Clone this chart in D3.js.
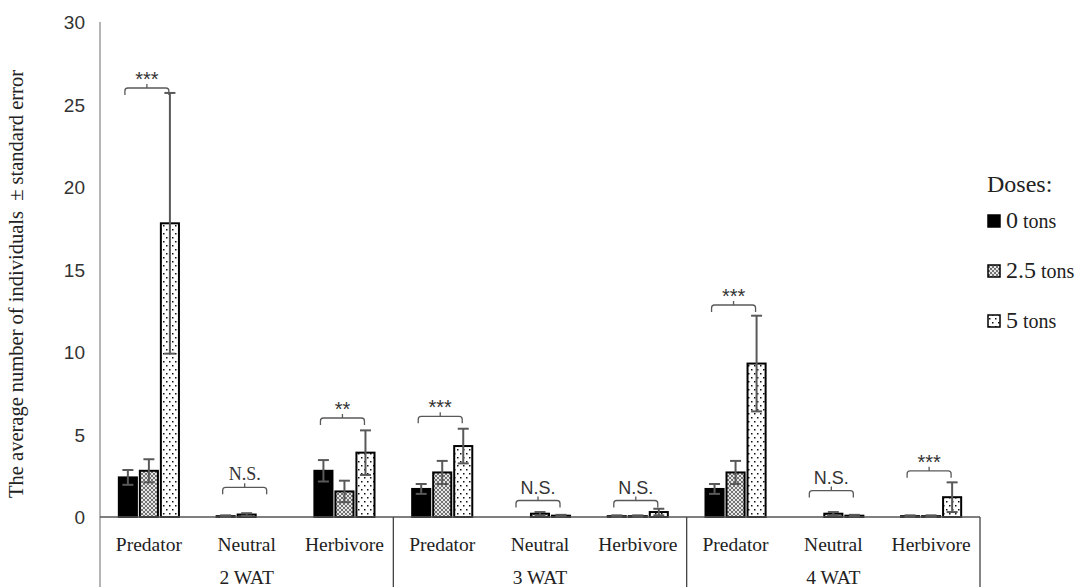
<!DOCTYPE html>
<meta charset="utf-8">
<style>
body { margin: 0; background: #fff; }
.tick-label { font-family: "Liberation Sans", Arial, sans-serif; font-size: 19px; fill: #333; }
.serif { font-family: "Liberation Serif", "DejaVu Serif", "Times New Roman", serif; }
.cat { font-size: 19.5px; fill: #222; }
.err { stroke: #595959; stroke-width: 2; }
.bracket { fill: none; stroke: #595959; stroke-width: 1.3; }
</style>
<div class="chart"></div>
<script src="https://cdn.jsdelivr.net/npm/d3@7"></script>
<script>

// data
var groups = ["2 WAT", "3 WAT", "4 WAT"];
var guilds = ["Predator", "Neutral", "Herbivore"];
var doses = ["0 tons", "2.5 tons", "5 tons"];

// means per dose, categories in order 2WAT P,N,H / 3WAT P,N,H / 4WAT P,N,H
var dose0 = [2.4, 0.05, 2.8, 1.7, 0.0, 0.05, 1.7, 0.0, 0.05];
var dose25 = [2.8, 0.15, 1.55, 2.7, 0.2, 0.05, 2.7, 0.2, 0.05];
var dose5 = [17.8, 0.0, 3.9, 4.3, 0.08, 0.3, 9.3, 0.08, 1.2];
var se0 = [0.45, 0.05, 0.65, 0.3, 0.0, 0.05, 0.3, 0.0, 0.05];
var se25 = [0.7, 0.08, 0.65, 0.7, 0.1, 0.05, 0.7, 0.1, 0.05];
var se5 = [7.9, 0.0, 1.35, 1.05, 0.05, 0.2, 2.9, 0.05, 0.9];

var sigLabels = ["***", "N.S.", "**", "***", "N.S.", "N.S.", "***", "N.S.", "***"];
var sigLevel = [26.0, 1.8, 6.0, 6.1, 1.0, 1.0, 12.85, 1.6, 2.8];
var yTicks = [0, 5, 10, 15, 20, 25, 30];

var width = 1079, height = 587;
var left = 100, right = 980, yZero = 517, yTop = 22;

var cats = [];
groups.forEach(function(g) {
  guilds.forEach(function(c) { cats.push(g + "|" + c); });
});

var svg = d3.select(".chart").append("svg")
    .attr("width", width)
    .attr("height", height);

var defs = svg.append("defs");

var hatch = defs.append("pattern")
    .attr("id", "hatch")
    .attr("patternUnits", "userSpaceOnUse")
    .attr("width", 4).attr("height", 4);
hatch.append("rect").attr("width", 4).attr("height", 4).attr("fill", "#e6e6e6");
hatch.append("path").attr("d", "M0,0 L4,4 M4,0 L0,4")
    .attr("stroke", "#666").attr("stroke-width", 0.9);

var dots = defs.append("pattern")
    .attr("id", "dots")
    .attr("patternUnits", "userSpaceOnUse")
    .attr("width", 6).attr("height", 8);
dots.append("rect").attr("width", 6).attr("height", 8).attr("fill", "#fff");
dots.append("rect").attr("x", 1).attr("y", 1).attr("width", 1.5).attr("height", 1.5).attr("fill", "#111");
dots.append("rect").attr("x", 4).attr("y", 5).attr("width", 1.5).attr("height", 1.5).attr("fill", "#111");

var fills = ["#000", "url(#hatch)", "url(#dots)"];

var y = d3.scaleLinear().domain([0, 30]).range([yZero, yTop]);
var x = d3.scaleBand().domain(cats).range([left, right]).padding(0);
var xg = d3.scaleBand().domain(groups).range([left, right]).padding(0);
var xs = d3.scaleBand().domain(doses).range([-33, 33]).padding(0.14);

// y axis labels
svg.append("g").selectAll("text")
    .data(yTicks).enter().append("text")
    .attr("class", "tick-label")
    .attr("x", 85)
    .attr("y", function(d) { return y(d) + 7; })
    .attr("text-anchor", "end")
    .text(function(d) { return d; });

svg.append("line")
    .attr("x1", left).attr("x2", left)
    .attr("y1", yTop).attr("y2", height)
    .attr("stroke", "#8c8c8c").attr("stroke-width", 1.3);

svg.append("text")
    .attr("class", "serif")
    .attr("transform", "translate(23,284) rotate(-90)")
    .attr("text-anchor", "middle")
    .style("font-size", "20.5px")
    .attr("fill", "#222")
    .text("The average number of individuals \u00A0\u00B1 standard error");

// bars
var series = [
  {dose: doses[0], vals: dose0, se: se0, fill: fills[0]},
  {dose: doses[1], vals: dose25, se: se25, fill: fills[1]},
  {dose: doses[2], vals: dose5, se: se5, fill: fills[2]}
];

series.forEach(function(s) {
  var g = svg.append("g");
  var cx = function(i) { return x(cats[i]) + x.bandwidth() / 2 + xs(s.dose); };
  g.selectAll("rect")
      .data(s.vals).enter().append("rect")
      .attr("x", function(d, i) { return cx(i); })
      .attr("y", function(d) { return y(d); })
      .attr("width", xs.bandwidth())
      .attr("height", function(d) { return yZero - y(d); })
      .attr("fill", s.fill)
      .attr("stroke", "#000")
      .attr("stroke-width", 2);

  var ex = function(i) { return cx(i) + xs.bandwidth() / 2; };
  var eb = g.selectAll(".eb")
      .data(s.vals).enter().append("g");
  eb.append("line").attr("class", "err")
      .attr("x1", function(d, i) { return ex(i); })
      .attr("x2", function(d, i) { return ex(i); })
      .attr("y1", function(d, i) { return y(Math.max(0, d - s.se[i])); })
      .attr("y2", function(d, i) { return y(d + s.se[i]); });
  [-1, 1].forEach(function(k) {
    eb.append("line").attr("class", "err")
        .attr("x1", function(d, i) { return ex(i) - 5.5; })
        .attr("x2", function(d, i) { return ex(i) + 5.5; })
        .attr("y1", function(d, i) { return y(k > 0 ? d + s.se[i] : Math.max(0, d - s.se[i])); })
        .attr("y2", function(d, i) { return y(k > 0 ? d + s.se[i] : Math.max(0, d - s.se[i])); })
        .style("display", function(d, i) { return s.se[i] > 0 ? null : "none"; });
  });
});

// x axis
svg.append("line")
    .attr("x1", left).attr("x2", right)
    .attr("y1", yZero).attr("y2", yZero)
    .attr("stroke", "#555").attr("stroke-width", 1.3);

svg.append("g").selectAll("line")
    .data(groups.slice(1).concat(["end"])).enter().append("line")
    .attr("x1", function(d) { return d === "end" ? right : xg(d); })
    .attr("x2", function(d) { return d === "end" ? right : xg(d); })
    .attr("y1", yZero).attr("y2", height)
    .attr("stroke", "#444").attr("stroke-width", 1.3);

svg.append("g").selectAll("text")
    .data(cats).enter().append("text")
    .attr("class", "cat serif")
    .attr("x", function(d) { return x(d) + x.bandwidth() / 2; })
    .attr("y", 551)
    .attr("text-anchor", "middle")
    .text(function(d) { return d.split("|")[1]; });

svg.append("g").selectAll("text")
    .data(groups).enter().append("text")
    .attr("class", "cat serif")
    .attr("x", function(d) { return xg(d) + xg.bandwidth() / 2; })
    .attr("y", 584)
    .attr("text-anchor", "middle")
    .text(function(d) { return d; });

// significance brackets
var br = svg.append("g").selectAll("g")
    .data(cats).enter().append("g");
br.append("path")
    .attr("class", "bracket")
    .attr("d", function(d, i) {
      var c = x(d) + x.bandwidth() / 2;
      var x0 = c - 24, x1 = c + 20, yy = y(sigLevel[i]), m = (x0 + x1) / 2;
      return "M" + x0 + "," + (yy + 7) + " L" + x0 + "," + (yy + 3) +
        " Q" + x0 + "," + yy + " " + (x0 + 3) + "," + yy +
        " L" + (x1 - 3) + "," + yy + " Q" + x1 + "," + yy + " " + x1 + "," + (yy + 3) +
        " L" + x1 + "," + (yy + 7) + " M" + m + "," + yy + " L" + m + "," + (yy - 4);
    });
br.append("text")
    .attr("class", function(d, i) { return i === 1 ? "serif" : "tick-label"; })
    .attr("x", function(d) { return x(d) + x.bandwidth() / 2 - 2; })
    .attr("y", function(d, i) { return y(sigLevel[i]) - (sigLabels[i] === "N.S." ? 7 : 2); })
    .attr("text-anchor", "middle")
    .style("font-size", function(d, i) { return sigLabels[i] === "N.S." ? "18px" : "20px"; })
    .style("fill", "#333")
    .text(function(d, i) { return sigLabels[i]; });

// legend
var lg = svg.append("g").attr("class", "serif").attr("transform", "translate(985,0)");
lg.append("text")
    .attr("x", 2).attr("y", 192)
    .style("font-size", "24px")
    .attr("fill", "#222")
    .text("Doses:");
var li = lg.selectAll(".li")
    .data(doses).enter().append("g")
    .attr("transform", function(d, i) { return "translate(0," + [221, 271, 321][i] + ")"; });
li.append("rect")
    .attr("x", 3).attr("y", -6)
    .attr("width", 12).attr("height", 12)
    .attr("fill", function(d, i) { return fills[i]; })
    .attr("stroke", "#000").attr("stroke-width", 1.5);
var lt = li.append("text")
    .attr("x", 21).attr("y", 7)
    .attr("fill", "#222");
lt.append("tspan")
    .style("font-size", "24px")
    .text(function(d) { return d.split(" ")[0]; });
lt.append("tspan")
    .style("font-size", "20px")
    .text(function(d) { return " " + d.split(" ")[1]; });

</script>
